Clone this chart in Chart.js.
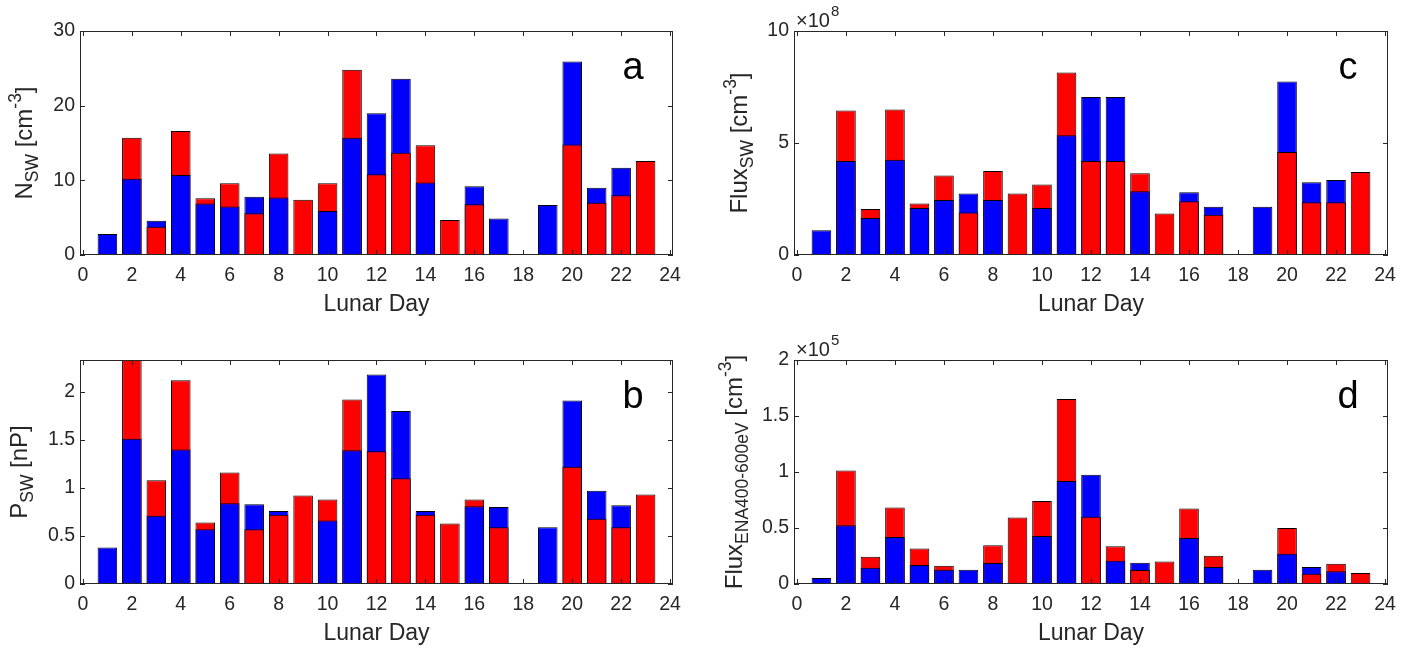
<!DOCTYPE html>
<html>
<head>
<meta charset="utf-8">
<title>Lunar Day</title>
<script src="https://cdn.jsdelivr.net/npm/chart.js@4.4.1/dist/chart.umd.min.js"></script>
<style>
    body { margin: 0; background: #fff; width: 1424px; height: 654px; position: relative; overflow: hidden; }
    canvas { position: absolute; }
</style>
</head>
<body>
<canvas id="panelA" width="712" height="327" style="left:0;top:0"></canvas>
<canvas id="panelB" width="712" height="327" style="left:0;top:327px"></canvas>
<canvas id="panelC" width="712" height="327" style="left:712px;top:0"></canvas>
<canvas id="panelD" width="712" height="327" style="left:712px;top:327px"></canvas>
<script>
'use strict';

// Lunar days (no data on day 18)
var days = [1, 2, 3, 4, 5, 6, 7, 8, 9, 10, 11, 12, 13, 14, 15, 16, 17, 18, 19, 20, 21, 22, 23];
var dayTicks = [0, 2, 4, 6, 8, 10, 12, 14, 16, 18, 20, 22, 24];

// a: solar wind density [cm^-3]
var nBlue = [2.8, 10.2, 4.6, 10.7, 6.9, 6.5, 7.8, 7.7, null, 5.9, 15.7, 19.0, 23.6, 9.7, null, 9.2, 4.9, null, 6.7, 25.9, 9.0, 11.7, null];
var nRed = [null, 15.7, 3.8, 16.6, 7.6, 9.6, 5.6, 13.6, 7.4, 9.6, 24.8, 10.8, 13.7, 14.7, 4.7, 6.8, null, null, null, 14.8, 7.0, 8.0, 12.6];
var nTicks = [0, 10, 20, 30];

// b: solar wind pressure [nP]
var pBlue = [0.38, 1.51, 0.71, 1.40, 0.57, 0.84, 0.83, 0.76, null, 0.66, 1.39, 2.18, 1.80, 0.76, null, 0.81, 0.80, null, 0.59, 1.91, 0.97, 0.82, null];
var pRed = [null, 2.33, 1.08, 2.12, 0.64, 1.16, 0.57, 0.72, 0.92, 0.88, 1.92, 1.38, 1.10, 0.72, 0.63, 0.88, 0.59, null, null, 1.22, 0.68, 0.59, 0.93];
var pTicks = [0, 0.5, 1, 1.5, 2];

// c: solar wind flux, x1e8
var fluxBlue = [1.1, 4.2, 1.65, 4.25, 2.1, 2.45, 2.75, 2.45, null, 2.1, 5.35, 7.05, 7.05, 2.85, null, 2.8, 2.15, null, 2.15, 7.75, 3.25, 3.35, null];
var fluxRed = [null, 6.45, 2.05, 6.5, 2.3, 3.55, 1.9, 3.75, 2.75, 3.15, 8.15, 4.2, 4.2, 3.65, 1.85, 2.4, 1.8, null, null, 4.6, 2.35, 2.35, 3.7];
var fluxTicks = [0, 5, 10];

// d: ENA flux 400-600 eV, x1e5
var enaBlue = [0.053, 0.525, 0.145, 0.42, 0.17, 0.128, 0.128, 0.188, null, 0.428, 0.92, 0.975, 0.208, 0.19, null, 0.41, 0.152, null, 0.128, 0.27, 0.152, 0.113, null];
var enaRed = [null, 1.013, 0.244, 0.683, 0.318, 0.163, null, 0.345, 0.594, 0.74, 1.652, 0.6, 0.336, 0.125, 0.2, 0.675, 0.253, null, null, 0.5, 0.092, 0.181, 0.098];
var enaTicks = [0, 0.5, 1, 1.5, 2];

var FONT = '"Liberation Sans", Arial, sans-serif';
var TEXT = '#262626';
var BLUE = '#0000ff';
var RED = '#ff0000';
var W = 712, H = 327;

// Both series start at zero; the shorter bar of each day sits in front
function buildDatasets(blue, red) {
    var front = [], back = [], frontColors = [], backColors = [];
    for (var i = 0; i < days.length; i++) {
        var b = blue[i], r = red[i];
        if (b == null && r == null) continue;
        if (b == null || r == null) {
            back.push({ x: days[i], y: b == null ? r : b });
            backColors.push(b == null ? RED : BLUE);
        } else if (b <= r) {
            back.push({ x: days[i], y: r }); backColors.push(RED);
            front.push({ x: days[i], y: b }); frontColors.push(BLUE);
        } else {
            back.push({ x: days[i], y: b }); backColors.push(BLUE);
            front.push({ x: days[i], y: r }); frontColors.push(RED);
        }
    }
    return [
        { label: 'front', data: front, backgroundColor: frontColors, order: 0 },
        { label: 'back', data: back, backgroundColor: backColors, order: 1 }
    ];
}

// Text with sub/superscript pieces, centred on (0, 0) along the baseline
function drawRich(ctx, parts, size, smallSize) {
    var total = 0;
    parts.forEach(function (p) {
        ctx.font = (p[1] ? smallSize : size) + 'px ' + FONT;
        p.w = ctx.measureText(p[0]).width;
        total += p.w;
    });
    var x = -total / 2;
    parts.forEach(function (p) {
        ctx.font = (p[1] ? smallSize : size) + 'px ' + FONT;
        var dy = p[1] === 'sub' ? 6 : p[1] === 'sup' ? -11 : 0;
        ctx.fillText(p[0], x, dy);
        x += p.w;
    });
}

// Box, inward ticks, y label, exponent and panel letter
var matlabAxes = {
    id: 'matlabAxes',
    afterDraw: function (chart, args, opts) {
        var ctx = chart.ctx, a = chart.chartArea;
        var xs = chart.scales.x, ys = chart.scales.y;
        ctx.save();
        ctx.strokeStyle = TEXT;
        ctx.lineWidth = 1;
        ctx.strokeRect(a.left + 0.5, a.top + 0.5, a.right - a.left - 1, a.bottom - a.top - 1);
        ctx.beginPath();
        xs.ticks.forEach(function (t) {
            var px = Math.round(xs.getPixelForValue(t.value)) + 0.5;
            ctx.moveTo(px, a.bottom); ctx.lineTo(px, a.bottom - 5);
            ctx.moveTo(px, a.top); ctx.lineTo(px, a.top + 5);
        });
        ys.ticks.forEach(function (t) {
            var py = Math.round(ys.getPixelForValue(t.value)) + 0.5;
            ctx.moveTo(a.left, py); ctx.lineTo(a.left + 5, py);
            ctx.moveTo(a.right, py); ctx.lineTo(a.right - 5, py);
        });
        ctx.stroke();

        ctx.fillStyle = TEXT;
        ctx.textBaseline = 'alphabetic';
        ctx.textAlign = 'left';
        ctx.save();
        ctx.translate(opts.titleX, (a.top + a.bottom) / 2);
        ctx.rotate(-Math.PI / 2);
        drawRich(ctx, opts.title, 24, 17.5);
        ctx.restore();

        if (opts.exponent) {
            ctx.font = '20px ' + FONT;
            var x0 = a.left + 2;
            ctx.fillText('\u00d710', x0, a.top - 4);
            var w = ctx.measureText('\u00d710').width;
            ctx.font = '15px ' + FONT;
            ctx.fillText(opts.exponent, x0 + w + 1, a.top - 15);
        }

        ctx.fillStyle = '#000';
        ctx.font = '38px ' + FONT;
        ctx.textAlign = 'center';
        ctx.fillText(opts.letter, a.right - 40, a.top + 48);
        ctx.restore();
    }
};

function makePanel(id, p) {
    var area = p.area;
    return new Chart(document.getElementById(id), {
        type: 'bar',
        data: { datasets: buildDatasets(p.blue, p.red) },
        options: {
            responsive: false,
            animation: false,
            layout: { padding: { left: 0, top: area.top, right: W - area.right, bottom: 0 } },
            datasets: {
                bar: {
                    grouped: false,
                    categoryPercentage: 1,
                    barPercentage: 0.8,
                    borderWidth: 1,
                    borderColor: '#000',
                    borderSkipped: false,
                    clip: 0
                }
            },
            plugins: {
                legend: { display: false },
                tooltip: { enabled: false },
                matlabAxes: { title: p.title, titleX: p.titleX, exponent: p.exponent, letter: p.letter }
            },
            scales: {
                x: {
                    type: 'linear',
                    offset: false,
                    min: -0.12,
                    max: 24.12,
                    afterBuildTicks: function (s) { s.ticks = dayTicks.map(function (v) { return { value: v }; }); },
                    afterFit: function (s) { s.height = H - area.bottom; },
                    grid: { display: false, drawTicks: false },
                    border: { display: false },
                    ticks: { color: TEXT, font: { family: FONT, size: 19.5 }, padding: 9, maxRotation: 0, autoSkip: false,
                        callback: function (v) { return String(v); } },
                    title: { display: true, text: 'Lunar Day', color: TEXT, font: { family: FONT, size: 23 },
                        padding: { top: 0, bottom: H - area.bottom - 50 - 13.8 } }
                },
                y: {
                    min: 0,
                    max: p.yMax,
                    afterBuildTicks: function (s) { s.ticks = p.ticks.map(function (v) { return { value: v }; }); },
                    afterFit: function (s) { s.width = area.left; },
                    grid: { display: false, drawTicks: false },
                    border: { display: false },
                    ticks: { color: TEXT, font: { family: FONT, size: 19.5 }, padding: 5,
                        callback: function (v) { return String(v); } }
                }
            }
        },
        plugins: [matlabAxes]
    });
}

makePanel('panelA', {
    blue: nBlue, red: nRed, ticks: nTicks, yMax: 30, letter: 'a', titleX: 32,
    area: { left: 80, top: 31, right: 673, bottom: 255 },
    title: [['N'], ['SW', 'sub'], [' [cm'], ['-3', 'sup'], [']']]
});
makePanel('panelB', {
    blue: pBlue, red: pRed, ticks: pTicks, yMax: 2.33, letter: 'b', titleX: 27,
    area: { left: 80, top: 33, right: 673, bottom: 257 },
    title: [['P'], ['SW', 'sub'], [' [nP]']]
});
makePanel('panelC', {
    blue: fluxBlue, red: fluxRed, ticks: fluxTicks, yMax: 10, letter: 'c', titleX: 35, exponent: '8',
    area: { left: 82, top: 31, right: 676, bottom: 255 },
    title: [['Flux'], ['SW', 'sub'], [' [cm'], ['-3', 'sup'], [']']]
});
makePanel('panelD', {
    blue: enaBlue, red: enaRed, ticks: enaTicks, yMax: 2, letter: 'd', titleX: 30, exponent: '5',
    area: { left: 82, top: 33, right: 676, bottom: 257 },
    title: [['Flux'], ['ENA400-600eV', 'sub'], [' [cm'], ['-3', 'sup'], [']']]
});
</script>
</body>
</html>
